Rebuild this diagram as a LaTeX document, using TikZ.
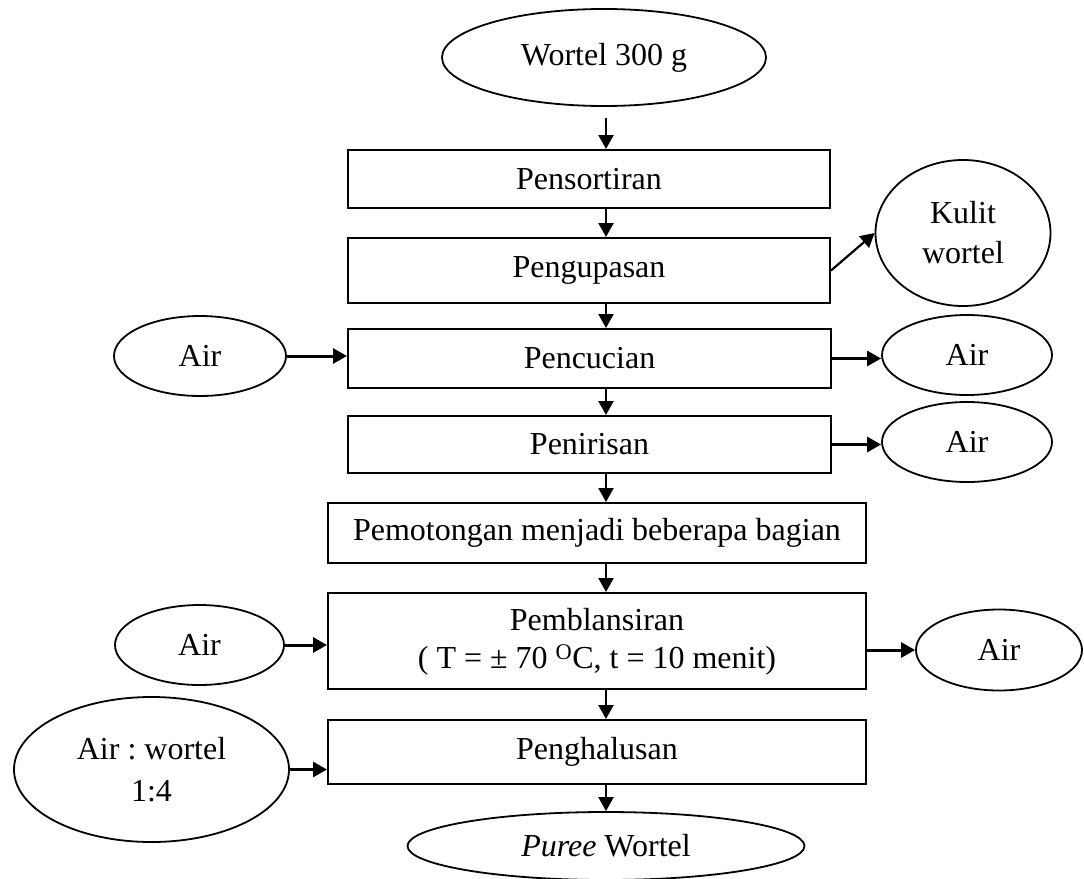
\documentclass[tikz,border=0pt]{standalone}
\usepackage{fontspec}
\setmainfont{Liberation Serif}
\usetikzlibrary{arrows.meta,shapes.geometric}
\begin{document}
\frenchspacing
\begin{tikzpicture}[x=1pt,y=-1pt,
  box/.style={draw, line width=2pt, rectangle, inner sep=0pt, align=center},
  oval/.style={draw, line width=1.8pt, ellipse, inner sep=0pt, align=center},
  varr/.style={line width=2.2pt, -{Triangle[length=14pt,width=15pt]}},
  harr/.style={line width=3pt, -{Triangle[length=14pt,width=15pt]}},
  font=\fontsize{32}{40}\selectfont]
\useasboundingbox (0,0) rectangle (1084,878);
% process boxes
\node[box, minimum width=482pt, minimum height=58pt] (pens)  at (589,179)   {Pensortiran};
\node[box, minimum width=482pt, minimum height=65pt] (peng)  at (589,270.5) {Pengupasan};
\node[box, minimum width=483pt, minimum height=59pt] (penc)  at (589.5,358.5) {Pencucian};
\node[box, minimum width=483pt, minimum height=57pt] (penir) at (589.5,444.5) {Penirisan};
\node[box, minimum width=538pt, minimum height=60pt] (pemo)  at (597,533)   {Pemotongan menjadi beberapa bagian};
\node[box, minimum width=538pt, minimum height=96pt, font=\fontsize{32}{38}\selectfont, text depth=6pt] (blans) at (597,641) {Pemblansiran\\( T = ± 70 \textsuperscript{O}C, t = 10 menit)};
\node[box, minimum width=538pt, minimum height=64pt] (halus) at (597,752)   {Penghalusan};
% ovals
\node[oval, minimum width=324pt, minimum height=97pt]  (wortel) at (604,57.5)  {Wortel 300 g};
\node[oval, minimum width=175pt, minimum height=146pt] (kulit)  at (963,233)   {Kulit\\wortel};
\node[oval, minimum width=172pt, minimum height=80pt]  (airLa)  at (200,356)   {Air};
\node[oval, minimum width=170pt, minimum height=80pt]  (airRa)  at (967,355)   {Air};
\node[oval, minimum width=170pt, minimum height=80pt]  (airRb)  at (967,442)   {Air};
\node[oval, minimum width=169pt, minimum height=80pt]  (airLb)  at (199.5,645) {Air};
\node[oval, minimum width=166pt, minimum height=81pt]  (airRc)  at (999,650)   {Air};
\node[oval, minimum width=275pt, minimum height=145pt, font=\fontsize{32}{42}\selectfont] (aw) at (151.5,769.5) {Air : wortel\\1:4};
\node[oval, minimum width=397pt, minimum height=68pt]  (puree)  at (606,846)   {\textit{Puree} Wortel};
% spine of vertical arrows
\coordinate (spine) at (606,0);
\draw[varr, shorten <=11pt] (wortel.south -| spine) -- (pens.north -| spine);
\draw[varr] (pens.south -| spine) -- (peng.north -| spine);
\draw[varr] (peng.south -| spine) -- (penc.north -| spine);
\draw[varr] (penc.south -| spine) -- (penir.north -| spine);
\draw[varr] (penir.south -| spine) -- (pemo.north -| spine);
\draw[varr] (pemo.south -| spine) -- (blans.north -| spine);
\draw[varr] (blans.south -| spine) -- (halus.north -| spine);
\draw[varr] (halus.south -| spine) -- (puree.north -| spine);
% side arrows
\draw[varr] (peng.east) -- (kulit.west);
\draw[harr] (airLa.east) -- (airLa.east -| penc.west);
\draw[harr] (penc.east) -- (airRa.west |- penc.east);
\draw[harr] (penir.east) -- (airRb.west |- penir.east);
\draw[harr] (airLb.east) -- (airLb.east -| blans.west);
\draw[harr] (blans.east |- airRc.west) -- (airRc.west);
\draw[harr] (aw.east) -- (aw.east -| halus.west);
\end{tikzpicture}
\end{document}
